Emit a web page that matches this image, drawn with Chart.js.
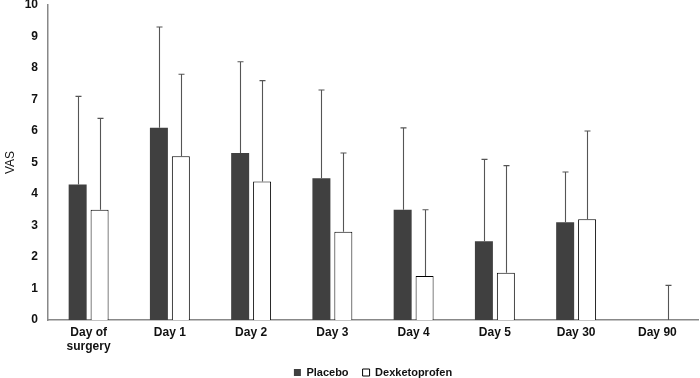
<!DOCTYPE html>
<html>
<head>
<meta charset="utf-8">
<script src="https://cdn.jsdelivr.net/npm/chart.js@4"></script>
<style>
  html, body { margin: 0; padding: 0; background: #fff; }
  #wrap { width: 700px; height: 378px; }
</style>
</head>
<body>
<div id="wrap"><canvas id="vasChart" width="700" height="378"></canvas></div>
<script>
// categories and values
const days = [['Day of', 'surgery'], 'Day 1', 'Day 2', 'Day 3', 'Day 4', 'Day 5', 'Day 30', 'Day 90'];
const placebo = [4.3, 6.1, 5.3, 4.5, 3.5, 2.5, 3.1, 0];
const placeboUpper = [7.1, 9.3, 8.2, 7.3, 6.1, 5.1, 4.7, null];
const dexketoprofen = [3.5, 5.2, 4.4, 2.8, 1.4, 1.5, 3.2, 0];
const dexUpper = [6.4, 7.8, 7.6, 5.3, 3.5, 4.9, 6.0, 1.1];
const yTicks = [0, 1, 2, 3, 4, 5, 6, 7, 8, 9, 10];

const uppers = [placeboUpper, dexUpper];

// Vẽ thanh sai số (chỉ phía trên)
const errorBars = {
    id: 'errorBars',
    afterDatasetsDraw(chart) {
        const ctx = chart.ctx;
        const yScale = chart.scales.y;
        ctx.save();
        ctx.strokeStyle = '#555';
        ctx.lineWidth = 1.1;
        chart.data.datasets.forEach((ds, i) => {
            const meta = chart.getDatasetMeta(i);
            meta.data.forEach((bar, j) => {
                const up = uppers[i][j];
                if (up == null) return;
                const x = Math.round(bar.x) + 0.5;
                const yTop = yScale.getPixelForValue(up);
                const yBase = yScale.getPixelForValue(ds.data[j]);
                ctx.beginPath();
                ctx.moveTo(x, yBase);
                ctx.lineTo(x, yTop);
                ctx.moveTo(x - 3, yTop);
                ctx.lineTo(x + 3, yTop);
                ctx.stroke();
            });
        });
        ctx.restore();
    }
};

const ctx = document.getElementById('vasChart').getContext('2d');
new Chart(ctx, {
    type: 'bar',
    data: {
        labels: days,
        datasets: [
            {
                label: 'Placebo',
                data: placebo,
                backgroundColor: '#404040',
                borderColor: '#404040',
                borderWidth: 0,
                categoryPercentage: 0.54,
                barPercentage: 0.82
            },
            {
                label: 'Dexketoprofen',
                data: dexketoprofen,
                backgroundColor: '#ffffff',
                borderColor: '#000000',
                borderWidth: 1,
                categoryPercentage: 0.54,
                barPercentage: 0.82
            }
        ]
    },
    options: {
        responsive: false,
        animation: false,
        layout: { padding: { top: 5, right: 2, left: 3, bottom: -10 } },
        plugins: {
            legend: {
                position: 'bottom',
                fullSize: false,
                labels: {
                    boxWidth: 7,
                    boxHeight: 7,
                    padding: 14,
                    color: '#111',
                    font: { family: 'Liberation Sans', size: 11, weight: 'bold' }
                }
            },
            tooltip: { enabled: false }
        },
        scales: {
            x: {
                grid: { display: false, drawTicks: false },
                border: { color: '#888', width: 1.5 },
                ticks: {
                    color: '#111',
                    padding: 5,
                    maxRotation: 0,
                    font: { family: 'Liberation Sans', size: 12, weight: 'bold' }
                },
                afterFit: (scale) => { scale.height = 33; }
            },
            y: {
                min: 0,
                max: 10,
                afterBuildTicks: (scale) => { scale.ticks = yTicks.map(v => ({ value: v })); },
                grid: { display: false, drawTicks: false },
                border: { color: '#888', width: 1.5 },
                ticks: {
                    color: '#111',
                    padding: 10,
                    font: { family: 'Liberation Sans', size: 12, weight: 'bold' }
                },
                title: {
                    display: true,
                    text: 'VAS',
                    color: '#111',
                    padding: 0,
                    font: { family: 'Liberation Sans', size: 12 }
                },
                afterFit: (scale) => {
                    scale.width = 45;
                    scale.paddingTop = 0;
                }
            }
        }
    },
    plugins: [errorBars]
});
</script>
</body>
</html>
